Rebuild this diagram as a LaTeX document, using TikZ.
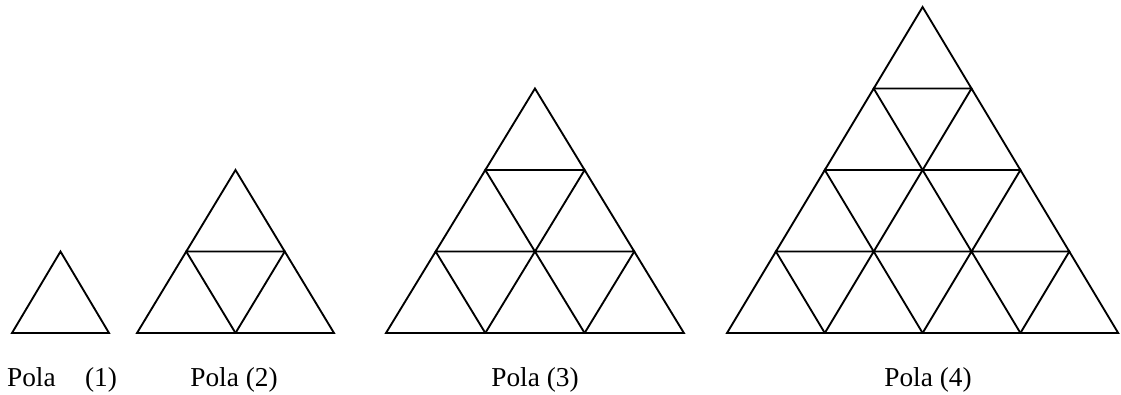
\documentclass[tikz,border=0pt]{standalone}
\usepackage{fontspec}
\setmainfont{Liberation Serif}
\tikzstyle{cell}=[line width=1.4pt, line join=miter]
\tikzstyle{caption}=[anchor=base, inner sep=0pt, font=\fontsize{20.5}{24}\selectfont]

\begin{document}
\begin{tikzpicture}[x=0.75pt, y=-0.75pt]
				\useasboundingbox (0,0) rectangle (1121,394);

				% left end of each base, side of a small triangle, rows
				\foreach \xo/\s/\n in {12/97/1, 137/98.5/2, 386/99.3/3, 727/97.8/4}{
					\pgfmathtruncatemacro{\top}{\n-1}
					\foreach \r in {0,...,\top}{
						\pgfmathtruncatemacro{\last}{\n-1-\r}
						\foreach \i in {0,...,\last}{
							\coordinate (bl) at ({\xo+\r*\s/2+\i*\s}, {333-\r*81.5});
							\draw[cell] (bl) -- ++(\s,0) -- ++(-\s/2,-81.5) -- cycle;
						}
					}
				}

				\node[caption] (pola1) at (62,386.5) {Pola\hspace{22pt}(1)};
				\node[caption] (pola2) at (234,386.5) {Pola (2)};
				\node[caption] (pola3) at (535,386.5) {Pola (3)};
				\node[caption] (pola4) at (928,386.5) {Pola (4)};
			\end{tikzpicture}
\end{document}
